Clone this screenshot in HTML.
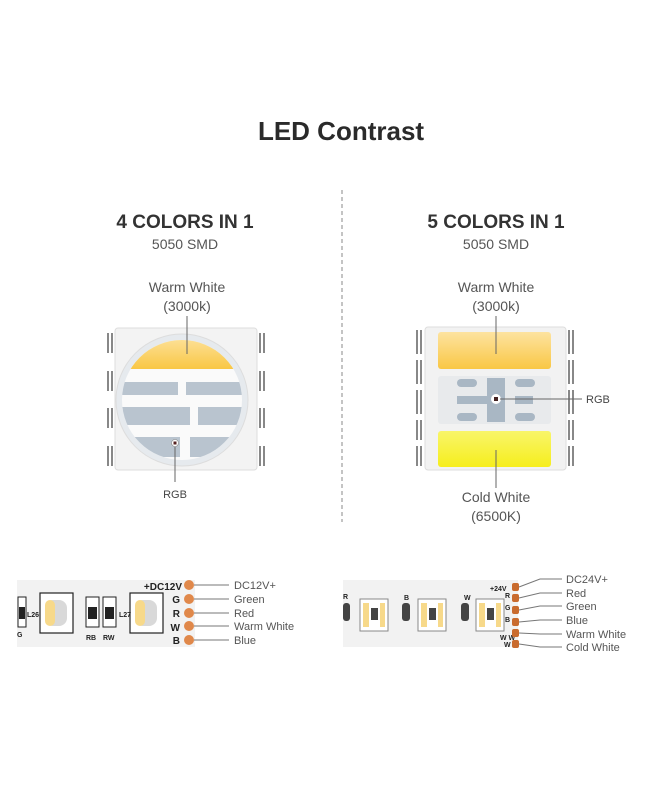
<!DOCTYPE html>
<html><head><meta charset="utf-8"><style>
html,body{margin:0;padding:0;background:#fff;}
svg{display:block;font-family:"Liberation Sans",sans-serif;}
</style></head><body>
<svg width="650" height="800" viewBox="0 0 650 800" xmlns="http://www.w3.org/2000/svg">
<defs>
<linearGradient id="yw" x1="0" y1="0" x2="0" y2="1"><stop offset="0" stop-color="#fde3a0"/><stop offset="1" stop-color="#f9c744"/></linearGradient>
<linearGradient id="cw" x1="0" y1="0" x2="0" y2="1"><stop offset="0" stop-color="#f8f56a"/><stop offset="1" stop-color="#f6ee1c"/></linearGradient>
<clipPath id="lens"><circle cx="182" cy="400" r="60"/></clipPath>
</defs>
<text x="341" y="140" text-anchor="middle" font-size="26" font-weight="bold" fill="#2a2a2a">LED Contrast</text>
<line x1="342" y1="190" x2="342" y2="522" stroke="#888" stroke-width="1" stroke-dasharray="4,3"/>

<text x="185" y="228" text-anchor="middle" font-size="19" font-weight="bold" fill="#333">4 COLORS IN 1</text>
<text x="185" y="249" text-anchor="middle" font-size="14" fill="#555">5050 SMD</text>
<text x="496" y="228" text-anchor="middle" font-size="19" font-weight="bold" fill="#333">5 COLORS IN 1</text>
<text x="496" y="249" text-anchor="middle" font-size="14" fill="#555">5050 SMD</text>

<text x="187" y="292" text-anchor="middle" font-size="14" fill="#555">Warm White</text>
<text x="187" y="311" text-anchor="middle" font-size="14" fill="#555">(3000k)</text>
<text x="496" y="292" text-anchor="middle" font-size="14" fill="#555">Warm White</text>
<text x="496" y="311" text-anchor="middle" font-size="14" fill="#555">(3000k)</text>

<!-- left LED pins -->
<g fill="#888">
<rect x="107" y="333" width="2" height="20"/><rect x="111" y="333" width="2" height="20"/>
<rect x="107" y="371" width="2" height="20"/><rect x="111" y="371" width="2" height="20"/>
<rect x="107" y="408" width="2" height="20"/><rect x="111" y="408" width="2" height="20"/>
<rect x="107" y="446" width="2" height="20"/><rect x="111" y="446" width="2" height="20"/>
<rect x="259" y="333" width="2" height="20"/><rect x="263" y="333" width="2" height="20"/>
<rect x="259" y="371" width="2" height="20"/><rect x="263" y="371" width="2" height="20"/>
<rect x="259" y="408" width="2" height="20"/><rect x="263" y="408" width="2" height="20"/>
<rect x="259" y="446" width="2" height="20"/><rect x="263" y="446" width="2" height="20"/>
</g>
<rect x="115" y="328" width="142" height="142" rx="3" fill="#f3f3f3" stroke="#ddd"/>
<circle cx="182" cy="400" r="66" fill="#e6eaee" stroke="#ddd"/>
<g clip-path="url(#lens)">
<rect x="110" y="338" width="150" height="130" fill="#fafafa"/>
<rect x="110" y="335" width="150" height="34" fill="url(#yw)"/>
<rect x="110" y="382" width="68" height="13" fill="#b9c4cf"/><rect x="186" y="382" width="74" height="13" fill="#b9c4cf"/>
<rect x="110" y="407" width="80" height="18" fill="#b9c4cf"/><rect x="198" y="407" width="62" height="18" fill="#b9c4cf"/>
<rect x="110" y="437" width="70" height="20" fill="#b9c4cf"/><rect x="190" y="437" width="70" height="20" fill="#b9c4cf"/>
</g>
<circle cx="175" cy="443" r="3.5" fill="#fff" stroke="#888" stroke-width="0.6"/><rect x="173.5" y="441.5" width="3" height="3" fill="#522"/>
<line x1="187" y1="316" x2="187" y2="354" stroke="#666" stroke-width="1"/>
<line x1="175" y1="447" x2="175" y2="482" stroke="#666" stroke-width="1"/>
<text x="175" y="498" text-anchor="middle" font-size="11" fill="#444">RGB</text>

<!-- right LED -->
<g fill="#888">
<rect x="416" y="330" width="2" height="24"/><rect x="420" y="330" width="2" height="24"/>
<rect x="416" y="360" width="2" height="24"/><rect x="420" y="360" width="2" height="24"/>
<rect x="416" y="390" width="2" height="24"/><rect x="420" y="390" width="2" height="24"/>
<rect x="416" y="420" width="2" height="20"/><rect x="420" y="420" width="2" height="20"/>
<rect x="416" y="446" width="2" height="20"/><rect x="420" y="446" width="2" height="20"/>
<rect x="568" y="330" width="2" height="24"/><rect x="572" y="330" width="2" height="24"/>
<rect x="568" y="360" width="2" height="24"/><rect x="572" y="360" width="2" height="24"/>
<rect x="568" y="390" width="2" height="24"/><rect x="572" y="390" width="2" height="24"/>
<rect x="568" y="420" width="2" height="20"/><rect x="572" y="420" width="2" height="20"/>
<rect x="568" y="446" width="2" height="20"/><rect x="572" y="446" width="2" height="20"/>
</g>
<rect x="425" y="327" width="141" height="143" rx="3" fill="#f2f2f2" stroke="#ddd"/>
<rect x="438" y="332" width="113" height="37" rx="3" fill="url(#yw)"/>
<rect x="438" y="376" width="113" height="48" rx="3" fill="#e8eaec"/>
<rect x="457" y="379" width="20" height="8" rx="4" fill="#a9b7c4"/><rect x="515" y="379" width="20" height="8" rx="4" fill="#a9b7c4"/>
<rect x="487" y="378" width="18" height="44" fill="#a9b7c4"/>
<rect x="457" y="396" width="32" height="8" fill="#a9b7c4"/><rect x="515" y="396" width="18" height="8" fill="#a9b7c4"/>
<rect x="457" y="413" width="20" height="8" rx="4" fill="#a9b7c4"/><rect x="515" y="413" width="20" height="8" rx="4" fill="#a9b7c4"/>
<circle cx="496" cy="399" r="5" fill="#fff"/><rect x="494" y="397" width="4" height="4" fill="#422"/>
<rect x="438" y="431" width="113" height="36" rx="3" fill="url(#cw)"/>
<line x1="496" y1="316" x2="496" y2="354" stroke="#666" stroke-width="1"/>
<line x1="500" y1="399" x2="582" y2="399" stroke="#666" stroke-width="1"/>
<text x="586" y="403" font-size="11" fill="#444">RGB</text>
<line x1="496" y1="450" x2="496" y2="488" stroke="#666" stroke-width="1"/>
<text x="496" y="502" text-anchor="middle" font-size="14" fill="#555">Cold White</text>
<text x="496" y="521" text-anchor="middle" font-size="14" fill="#555">(6500K)</text>

<!-- left strip -->
<rect x="17" y="580" width="178" height="67" fill="#f2f2f2"/>
<rect x="40" y="593" width="33" height="40" fill="#fff" stroke="#222" stroke-width="1.2"/>
<rect x="45" y="600" width="22" height="26" rx="8" fill="#d9d9d9"/>
<rect x="45" y="600" width="10" height="26" rx="5" fill="#f7d98a"/>
<rect x="130" y="593" width="33" height="40" fill="#fff" stroke="#222" stroke-width="1.2"/>
<rect x="135" y="600" width="22" height="26" rx="8" fill="#d9d9d9"/>
<rect x="135" y="600" width="10" height="26" rx="5" fill="#f7d98a"/>
<rect x="86" y="597" width="13" height="30" fill="#fff" stroke="#222"/><rect x="88" y="607" width="9" height="12" fill="#222"/>
<rect x="103" y="597" width="13" height="30" fill="#fff" stroke="#222"/><rect x="105" y="607" width="9" height="12" fill="#222"/>
<rect x="18" y="597" width="8" height="30" fill="#fff" stroke="#222"/><rect x="19" y="607" width="6" height="12" fill="#222"/>
<g font-size="7" font-weight="bold" fill="#222"><text x="27" y="617">L26</text><text x="119" y="617">L27</text><text x="86" y="640">RB</text><text x="103" y="640">RW</text><text x="17" y="637">G</text></g>
<g font-size="10" font-weight="bold" fill="#222" text-anchor="end">
<text x="182" y="590">+DC12V</text><text x="180" y="603">G</text><text x="180" y="617">R</text><text x="180" y="631">W</text><text x="180" y="644">B</text></g>
<g fill="#e0884a"><rect x="184" y="580" width="10" height="10" rx="5"/><rect x="184" y="594" width="10" height="10" rx="5"/><rect x="184" y="608" width="10" height="10" rx="5"/><rect x="184" y="621" width="10" height="10" rx="5"/><rect x="184" y="635" width="10" height="10" rx="5"/></g>
<g stroke="#777" stroke-width="1"><line x1="194" y1="585" x2="229" y2="585"/><line x1="194" y1="599" x2="229" y2="599"/><line x1="194" y1="613" x2="229" y2="613"/><line x1="194" y1="626" x2="229" y2="626"/><line x1="194" y1="640" x2="229" y2="640"/></g>
<g font-size="11" fill="#555"><text x="234" y="589">DC12V+</text><text x="234" y="603">Green</text><text x="234" y="617">Red</text><text x="234" y="630">Warm White</text><text x="234" y="644">Blue</text></g>

<!-- right strip -->
<rect x="343" y="580" width="175" height="67" fill="#f2f2f2"/>
<g>
<rect x="360" y="599" width="28" height="32" fill="#fff" stroke="#888"/><rect x="363" y="603" width="6" height="24" fill="#f7d98a"/><rect x="380" y="603" width="5" height="24" fill="#f7d98a"/><rect x="371" y="608" width="7" height="12" fill="#444"/>
<rect x="418" y="599" width="28" height="32" fill="#fff" stroke="#888"/><rect x="421" y="603" width="6" height="24" fill="#f7d98a"/><rect x="438" y="603" width="5" height="24" fill="#f7d98a"/><rect x="429" y="608" width="7" height="12" fill="#444"/>
<rect x="476" y="599" width="28" height="32" fill="#fff" stroke="#888"/><rect x="479" y="603" width="6" height="24" fill="#f7d98a"/><rect x="496" y="603" width="5" height="24" fill="#f7d98a"/><rect x="487" y="608" width="7" height="12" fill="#444"/>
<rect x="343" y="603" width="7" height="18" rx="3" fill="#444"/><rect x="402" y="603" width="8" height="18" rx="3" fill="#444"/><rect x="461" y="603" width="8" height="18" rx="3" fill="#444"/>
</g>
<g font-size="7" font-weight="bold" fill="#222"><text x="343" y="599">R</text><text x="404" y="600">B</text><text x="464" y="600">W</text>
<text x="490" y="591">+24V</text><text x="505" y="598">R</text><text x="505" y="610">G</text><text x="505" y="622">B</text><text x="500" y="640">W W</text><text x="504" y="647">W</text></g>
<g fill="#c96b2e"><rect x="512" y="583" width="7" height="8" rx="2"/><rect x="512" y="594" width="7" height="8" rx="2"/><rect x="512" y="606" width="7" height="8" rx="2"/><rect x="512" y="618" width="7" height="8" rx="2"/><rect x="512" y="629" width="7" height="8" rx="2"/><rect x="512" y="640" width="7" height="8" rx="2"/></g>
<g stroke="#777" stroke-width="1" fill="none">
<polyline points="519,587 540,579 562,579"/><polyline points="519,598 540,593 562,593"/><polyline points="519,610 540,606 562,606"/><polyline points="519,622 540,620 562,620"/><polyline points="519,633 540,634 562,634"/><polyline points="519,644 540,647 562,647"/></g>
<g font-size="11" fill="#555"><text x="566" y="583">DC24V+</text><text x="566" y="597">Red</text><text x="566" y="610">Green</text><text x="566" y="624">Blue</text><text x="566" y="638">Warm White</text><text x="566" y="651">Cold White</text></g>
</svg>
</body></html>
